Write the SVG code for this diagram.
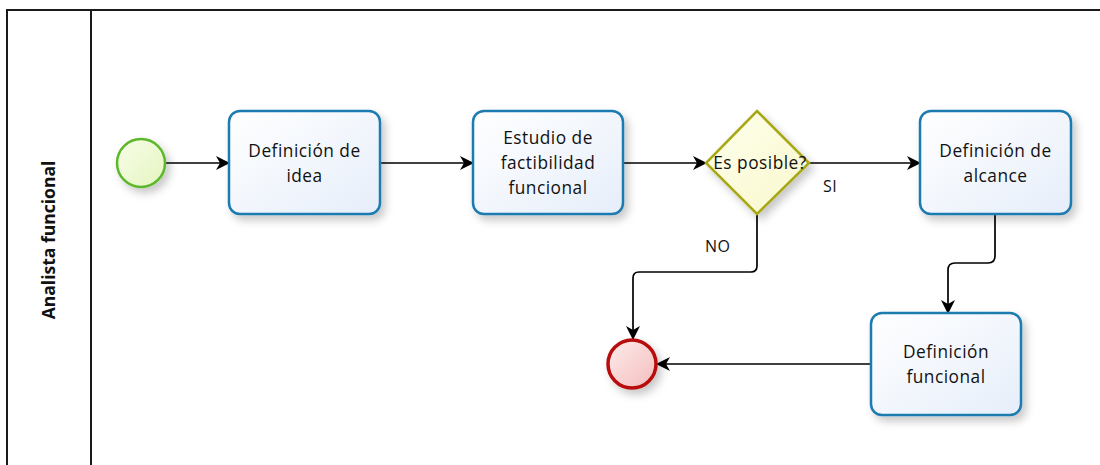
<svg xmlns="http://www.w3.org/2000/svg" width="1100" height="465" viewBox="0 0 1100 465">
  <style>
    .lane { fill: none; stroke: #1a1a1a; stroke-width: 2; }
    .task rect { fill: url(#taskFill); stroke: #1e7bb0; stroke-width: 2.5; filter: url(#shadow); }
    .label { font-family: "Open Sans", "DejaVu Sans", sans-serif; font-size: 17.3px; letter-spacing: 0.5px; fill: #111; text-anchor: middle; }
    .flow { fill: none; stroke: #000; stroke-width: 1.7; marker-end: url(#arrow); }
    .cond { font-family: "Open Sans", "DejaVu Sans", sans-serif; font-size: 16px; letter-spacing: 0.5px; fill: #111; }
  </style>
  <defs>
    <linearGradient id="taskFill" x1="0" y1="0" x2="1" y2="1">
      <stop offset="0" stop-color="#ffffff"/>
      <stop offset="1" stop-color="#e6eefa"/>
    </linearGradient>
    <linearGradient id="startFill" x1="0" y1="0" x2="1" y2="1">
      <stop offset="0" stop-color="#f8fde8"/>
      <stop offset="1" stop-color="#e4f5c0"/>
    </linearGradient>
    <linearGradient id="endFill" x1="0" y1="0" x2="1" y2="1">
      <stop offset="0" stop-color="#fdecec"/>
      <stop offset="1" stop-color="#f4bcbc"/>
    </linearGradient>
    <linearGradient id="gateFill" x1="0" y1="0" x2="1" y2="1">
      <stop offset="0" stop-color="#ffffee"/>
      <stop offset="1" stop-color="#f8f8cc"/>
    </linearGradient>
    <filter id="shadow" x="-20%" y="-20%" width="150%" height="150%">
      <feDropShadow dx="4" dy="5" stdDeviation="4" flood-color="#000" flood-opacity="0.22"/>
    </filter>
    <marker id="arrow" viewBox="0 0 14 14" refX="13" refY="7" markerWidth="14" markerHeight="14" markerUnits="userSpaceOnUse" orient="auto">
      <path d="M0,0 L14,7 L0,14 L4,7 Z" fill="#000"/>
    </marker>
  </defs>

  <!-- pool and lane -->
  <g id="pool">
    <polyline class="lane" points="7,470 7,10 1100,10"/>
    <line class="lane" x1="91" y1="10" x2="91" y2="470"/>
    <text transform="translate(55,240) rotate(-90)" font-family="'Open Sans', 'DejaVu Sans', sans-serif" font-size="17.5" font-weight="bold" fill="#111" text-anchor="middle">Analista funcional</text>
  </g>

  <!-- sequence flows -->
  <g id="connectors">
    <line class="flow" x1="166" y1="163" x2="229" y2="163"/>
    <line class="flow" x1="380" y1="163" x2="473" y2="163"/>
    <line class="flow" x1="623" y1="163" x2="706" y2="163"/>
    <line class="flow" x1="809" y1="163" x2="920" y2="163"/>
    <path class="flow" d="M757,214 V266 Q757,272 751,272 H639 Q633,272 633,278 V339"/>
    <path class="flow" d="M995,214 V256 Q995,263 988,263 H955 Q948,263 948,270 V313"/>
    <line class="flow" x1="871" y1="364" x2="657" y2="364"/>
    <text class="cond" x="823" y="192">SI</text>
    <text class="cond" x="705" y="252">NO</text>
  </g>

  <g id="start">
    <circle cx="141" cy="163" r="24" fill="url(#startFill)" stroke="#5cb82a" stroke-width="2.5" filter="url(#shadow)"/>
  </g>

  <g id="task-idea" class="task">
    <rect x="229" y="111" width="151" height="103" rx="11"/>
    <text class="label" x="304.5" y="157">Definición de</text>
    <text class="label" x="304.5" y="182">idea</text>
  </g>

  <g id="task-factibilidad" class="task">
    <rect x="473" y="111" width="150" height="103" rx="11"/>
    <text class="label" x="548" y="144">Estudio de</text>
    <text class="label" x="548" y="169">factibilidad</text>
    <text class="label" x="548" y="194">funcional</text>
  </g>

  <g id="gateway">
    <polygon points="757,111 809,163 757,214 706,163" fill="url(#gateFill)" stroke="#a8a814" stroke-width="2.5" filter="url(#shadow)"/>
    <text class="label" x="760" y="169">Es posible?</text>
  </g>

  <g id="task-alcance" class="task">
    <rect x="920" y="111" width="151" height="103" rx="11"/>
    <text class="label" x="995.5" y="157">Definición de</text>
    <text class="label" x="995.5" y="182">alcance</text>
  </g>

  <g id="task-funcional" class="task">
    <rect x="871" y="313" width="150" height="102" rx="11"/>
    <text class="label" x="946" y="358">Definición</text>
    <text class="label" x="946" y="383">funcional</text>
  </g>

  <g id="end">
    <circle cx="632" cy="364" r="24" fill="url(#endFill)" stroke="#b80d0d" stroke-width="3.5" filter="url(#shadow)"/>
  </g>
</svg>
